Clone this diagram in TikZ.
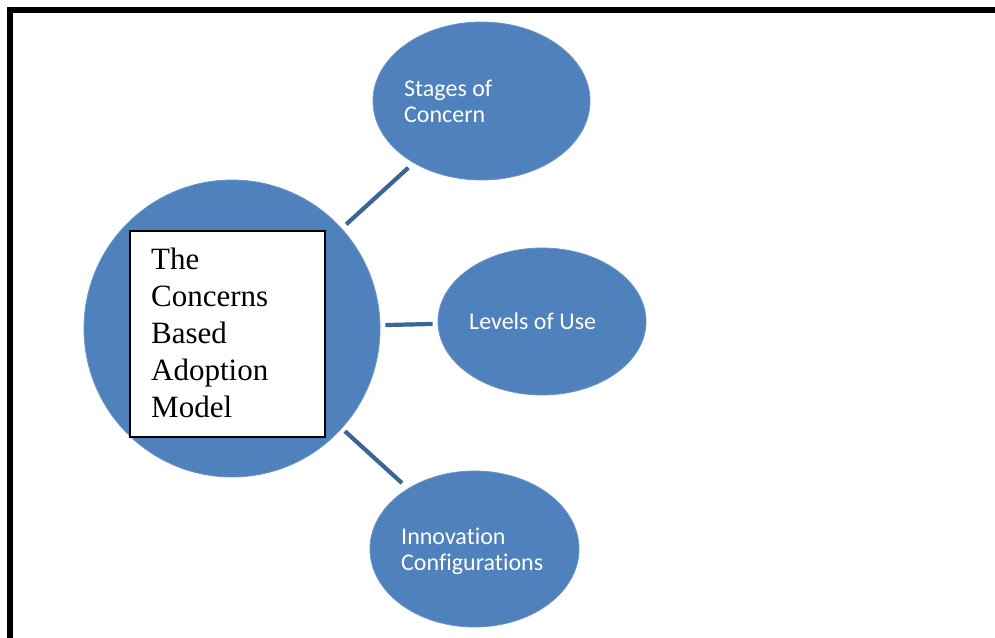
\documentclass[tikz,border=0pt]{standalone}
\usepackage{fontspec}
\setmainfont{Liberation Serif}
\newfontfamily\calibri[Ligatures={NoCommon}]{Carlito}
\usetikzlibrary{shapes.geometric}
\definecolor{blobblue}{HTML}{4F81BD}
\definecolor{linkblue}{HTML}{3D6498}
\tikzset{
  blob/.style={ellipse, fill=blobblue, draw=blobblue!85!white, line width=0.8pt, inner sep=0pt},
  link/.style={draw=linkblue, line width=4.2pt},
  wtext/.style={anchor=base west, inner sep=0pt, text=white, font=\calibri\fontsize{24}{26}\selectfont},
  btext/.style={anchor=base west, inner sep=0pt, text=black, font=\fontsize{31}{37}\selectfont},
}
\begin{document}
\begin{tikzpicture}[x=1pt,y=-1pt]
\useasboundingbox (0,0) rectangle (995,637);
% frame
\draw[line width=6pt, line join=miter] (10,640) -- (10,10) -- (998,10);
% shapes
\node[blob, minimum width=296pt, minimum height=297pt] (cbam) at (232,328.5) {};
\node[blob, minimum width=217pt, minimum height=158pt] (soc) at (481.5,101) {};
\node[blob, minimum width=208pt, minimum height=147pt] (lou) at (542,321.5) {};
\node[blob, minimum width=209pt, minimum height=156pt] (ic) at (474.5,549) {};
% white box
\node[draw=black, fill=white, line width=2pt, minimum width=195pt, minimum height=206pt, inner sep=0pt] (box) at (227,333.5) {};
% connectors
\draw[link, shorten <=6pt, shorten >=7pt] (cbam) -- (soc);
\draw[link, shorten <=5pt, shorten >=5pt] (cbam) -- (lou);
\draw[link, shorten <=4pt, shorten >=8pt] (cbam) -- (ic);
% box text
\node[btext] (t1) at (151,269) {The};
\node[btext] (t2) at (151,306) {Concerns};
\node[btext] (t3) at (151,343) {Based};
\node[btext] (t4) at (151,380) {Adoption};
\node[btext] (t5) at (151,417) {Model};
% ellipse texts
\node[wtext] (s1) at (404,96) {Stages of};
\node[wtext] (s2) at (404,122) {Concern};
\node[wtext] (l1) at (469,329) {Levels of Use};
\node[wtext] (i1) at (401,544) {Innovation};
\node[wtext] (i2) at (401,570) {Configurations};
\end{tikzpicture}
\end{document}
